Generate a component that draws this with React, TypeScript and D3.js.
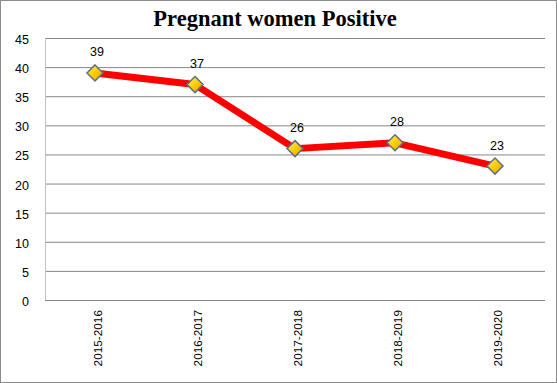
import React from "react";
import * as d3 from "d3";

const categories = ["2015-2016", "2016-2017", "2017-2018", "2018-2019", "2019-2020"];
const values = [39, 37, 26, 27, 23];
const labels = ["39", "37", "26", "28", "23"];
const yTicks = [0, 5, 10, 15, 20, 25, 30, 35, 40, 45];
const title = "Pregnant women Positive";

export default function App() {
  const W = 557, H = 383;
  const left = 45, right = 545, top = 38, bottom = 300;
  const x = d3.scaleBand<string>().domain(categories).range([left, right]);
  const y = d3.scaleLinear().domain([0, 45]).range([bottom, top]);
  const line = d3
    .line<number>()
    .x((_, i) => (x(categories[i]) as number) + x.bandwidth() / 2)
    .y((d) => y(d));
  const r = 8;
  return (
    <svg
      width={W}
      height={H}
      style={{ position: "absolute", left: 0, top: 0, background: "#fff" }}
    >
      <defs>
        <linearGradient id="gold" x1="0" y1="0" x2="1" y2="1">
          <stop offset="0" stopColor="#FFF07A" />
          <stop offset="0.5" stopColor="#FFCC00" />
          <stop offset="1" stopColor="#E0A000" />
        </linearGradient>
      </defs>
      <rect x={0.5} y={0.5} width={W - 1} height={H - 1} fill="#fff" stroke="#8c8c8c" />
      <text
        x={275}
        y={26}
        textAnchor="middle"
        fontFamily="Liberation Serif"
        fontWeight="bold"
        fontSize={22.5}
        fill="#000"
      >
        {title}
      </text>
      {yTicks.map((t) => (
        <g key={t}>
          {t > 0 && (
            <line x1={left} x2={right} y1={y(t) + 0.5} y2={y(t) + 0.5} stroke="#868686" strokeWidth={1} />
          )}
          <text
            x={29}
            y={y(t) + 6}
            textAnchor="end"
            fontFamily="Liberation Sans"
            fontSize={12.5}
            fill="#000"
          >
            {t}
          </text>
        </g>
      ))}
      <line x1={left + 0.5} x2={left + 0.5} y1={top} y2={bottom} stroke="#bfbfbf" />
      <line x1={left} x2={right} y1={bottom + 0.5} y2={bottom + 0.5} stroke="#868686" />
      {categories.map((c) => {
        const cx = (x(c) as number) + x.bandwidth() / 2;
        return (
          <text
            key={c}
            transform={`translate(${cx + 6.5},${310}) rotate(-90)`}
            textAnchor="end"
            fontFamily="Liberation Sans"
            fontSize={11.8}
            fill="#000"
          >
            {c}
          </text>
        );
      })}
      <path d={line(values) || ""} fill="none" stroke="#FF0000" strokeWidth={7} strokeLinejoin="round" />
      {values.map((v, i) => {
        const cx = (x(categories[i]) as number) + x.bandwidth() / 2;
        const cy = y(v);
        return (
          <g key={i}>
            <path
              d={`M${cx},${cy - r} L${cx + r},${cy} L${cx},${cy + r} L${cx - r},${cy} Z`}
              fill="url(#gold)"
              stroke="#5f7080"
              strokeWidth={1.5}
            />
            <text
              x={cx + 2}
              y={cy - 16.5}
              textAnchor="middle"
              fontFamily="Liberation Sans"
              fontSize={12.5}
              fill="#000"
            >
              {labels[i]}
            </text>
          </g>
        );
      })}
    </svg>
  );
}
